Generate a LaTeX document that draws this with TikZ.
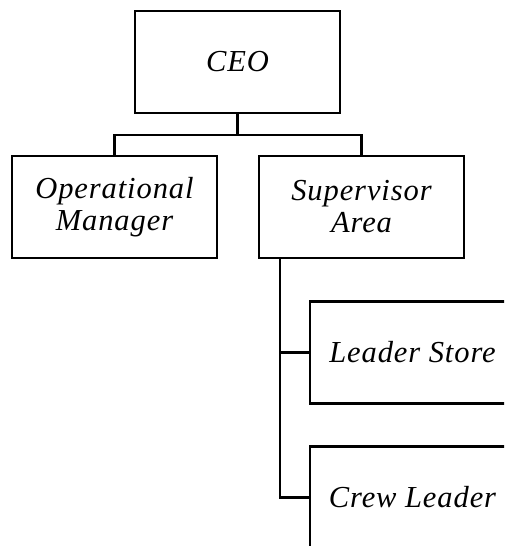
\documentclass[tikz,border=0pt]{standalone}
\usepackage{fontspec}
\setmainfont{Liberation Serif}[LetterSpace=3]
\begin{document}
\begin{tikzpicture}[x=1pt,y=-1pt,
  orgbox/.style={draw,line width=2.8pt,minimum width=205pt,minimum height=102pt,
    inner sep=0pt,align=center,font=\fontsize{30.5}{32}\selectfont\itshape},
  link/.style={line width=2.8pt}]
\useasboundingbox (0,0) rectangle (504,546);
\clip (0,0) rectangle (504,546);
% boxes
\node[orgbox] (ceo) at (237.5,62) {CEO};
\node[orgbox] (om)  at (114.5,207) {Operational\\Manager};
\node[orgbox] (sa)  at (361.5,207) {Supervisor\\Area};
\node[orgbox] (ls)  at (412.5,352.5) {Leader Store};
\node[orgbox] (cl)  at (412.5,497.5) {Crew Leader};
% connectors
\coordinate (bus) at (237.5,135);
\coordinate (trunk) at (280,258);
\draw[link] (ceo.south) -- (bus);
\draw[link] (om.north) |- (bus) -| (sa.north);
\draw[link] (trunk) |- (ls.west);
\draw[link] (trunk) |- (cl.west);
\end{tikzpicture}
\end{document}
